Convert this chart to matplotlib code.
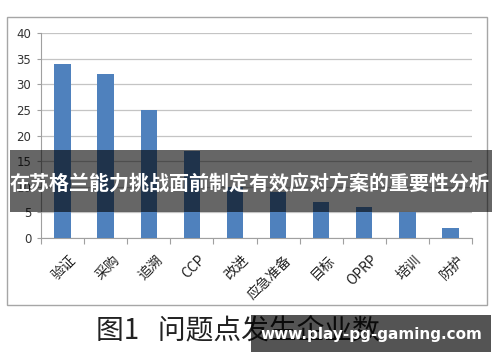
import matplotlib.pyplot as plt
from matplotlib.patches import Rectangle
import numpy as np

plt.rcParams['font.family'] = ['Noto Sans CJK SC', 'DejaVu Sans']

# data (改进 / 应急准备 are partly hidden, estimated)
categories = ['验证', '采购', '追溯', 'CCP', '改进', '应急准备', '目标', 'OPRP', '培训', '防护']
counts = [34, 32, 25, 17, 10, 9, 7, 6, 5, 2]
yticks = [0, 5, 10, 15, 20, 25, 30, 35, 40]

fig = plt.figure(figsize=(5, 3.62), dpi=100)
fig.patch.set_facecolor('white')

# outer chart frame
fig.patches.append(Rectangle((0.014, 0.1575), 0.96, 0.7956, transform=fig.transFigure,
                             fill=False, edgecolor='#a6a6a6', linewidth=1.0, zorder=0))

ax = fig.add_axes([0.082, 0.3425, 0.862, 0.5663])
x = np.arange(len(categories))
ax.bar(x, counts, width=0.38, color='#4f81bd', zorder=3)

ax.set_xlim(-0.5, len(categories) - 0.5)
ax.set_ylim(0, 40)
ax.set_yticks(yticks)
ax.set_yticklabels([str(v) for v in yticks], fontsize=8.5, color='#333333',
                   family='DejaVu Sans')
ax.yaxis.grid(True, color='#c4c4c4', linewidth=0.9, zorder=0)
ax.tick_params(axis='y', length=3, color='#a0a0a0', pad=4)

# category separator ticks on the x axis
ax.set_xticks(np.arange(-0.5, len(categories)), minor=False)
ax.set_xticklabels([])
ax.tick_params(axis='x', length=4, color='#a0a0a0', direction='out')
for i, lab in enumerate(categories):
    ax.text(i + 0.15, -2.9, lab, rotation=45, ha='right', va='top',
            rotation_mode='anchor', fontsize=10, color='#222222')

for s in ['top', 'right']:
    ax.spines[s].set_visible(False)
for s in ['left', 'bottom']:
    ax.spines[s].set_color('#a0a0a0')

# caption
fig.text(0.476, 1 - 330 / 362, '图1   问题点发生企业数', ha='center', va='center',
         fontsize=20, color='#222222')

# overlay banner across the chart
fig.patches.append(Rectangle((10 / 500, 1 - 212 / 362), 482 / 500, 62 / 362,
                             transform=fig.transFigure, facecolor='black', alpha=0.6,
                             edgecolor='none', zorder=10))
fig.text(250 / 500, 1 - 183 / 362, '在苏格兰能力挑战面前制定有效应对方案的重要性分析',
         ha='center', va='center', fontsize=14.4, fontweight='bold', color='white',
         zorder=11)

# watermark box bottom right
fig.patches.append(Rectangle((251 / 500, 1 - 352 / 362), 240 / 500, 37 / 362,
                             transform=fig.transFigure, facecolor='black', alpha=0.67,
                             edgecolor='none', zorder=10))
fig.text(371 / 500, 1 - 335 / 362, 'www.play-pg-gaming.com', ha='center', va='center',
         fontsize=11, fontweight='bold', color='white', family='DejaVu Sans', zorder=11)

fig.savefig('out.png', dpi=100)
